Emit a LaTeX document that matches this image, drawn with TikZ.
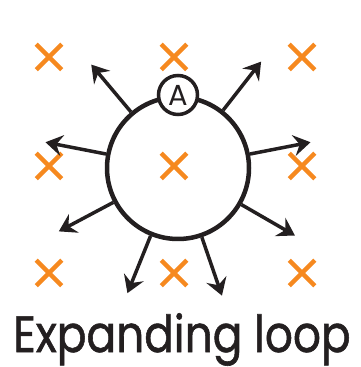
\documentclass[tikz,border=0pt]{standalone}
\usepackage{fontspec}
\setmainfont{Poppins}
\usetikzlibrary{arrows.meta,shapes.misc,calc}
\definecolor{ink}{HTML}{231F20}
\definecolor{fieldorange}{HTML}{F6891F}

\begin{document}
\begin{tikzpicture}[x=1pt, y=1pt,
    push/.style={ink, line width=3.5pt, -{Stealth[length=17pt, width=21pt, inset=6pt]}},
    intofield/.style={cross out, draw=fieldorange, line width=4.5pt, minimum size=21pt, inner sep=0pt},
    ]
    \useasboundingbox (0, 0) rectangle (360, 367);

    % Field into the page
    \foreach \x/\i in {49/1, 174/2, 302/3}
        \foreach \y/\j in {310/1, 201/2, 94/3}
            \node[intofield] (field\i\j) at (\x, \y) {};

    % Loop
    \node[circle, draw=ink, line width=4.5pt, minimum size=142pt, inner sep=0pt] (loop) at (178, 199) {};

    % Outward pushes
    \foreach \a in {52, 130, 11, 169, 208, 248, 289, 330} {
        \coordinate (tip\a) at ($(loop.center) + (\a:135)$);
        \draw[push] (loop.\a) -- (tip\a);
    }

    % Ammeter
    \node[circle, draw=ink, fill=white, line width=3.5pt, minimum size=39pt, inner sep=0pt,
          font=\fontsize{29}{29}\selectfont, text=ink] (meter) at (178, 272) {A};

    % Caption
    \node[anchor=base, text=ink, xscale=0.86,
          font=\fontsize{51}{51}\selectfont\addfontfeatures{FakeBold=1.2}] (caption) at (182, 15) {Expanding loop};
\end{tikzpicture}
\end{document}
